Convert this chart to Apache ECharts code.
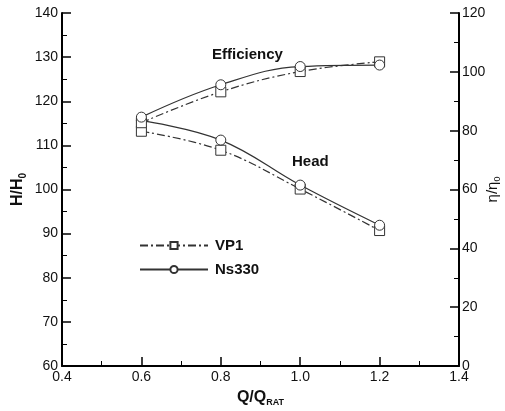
<!DOCTYPE html>
<html>
<head>
<meta charset="utf-8">
<script src="https://cdn.jsdelivr.net/npm/echarts@6/dist/echarts.min.js"></script>
<style>
  html, body { margin: 0; padding: 0; background: #fff; }
  #main { width: 505px; height: 411px; }
</style>
</head>
<body>
<div id="main"></div>
<script>
// flow ratio Q/Q_RAT
const flowRatio = [0.6, 0.8, 1.0, 1.2]
// head H/H0 (left axis)
const headVP1 = [113.2, 108.9, 100.1, 90.7]
const headNs330 = [115.6, 111.2, 101.0, 91.9]
// efficiency η/η0 (right axis)
const effVP1 = [82.7, 93.2, 100.1, 103.4]
const effNs330 = [84.6, 95.6, 101.8, 102.3]

const font = 'Liberation Sans, Arial, sans-serif'
const ink = '#111'
const lineColor = '#333'
const dashDot = [8, 3, 2, 3]

function pairs(ys) {
  return flowRatio.map((x, i) => [x, ys[i]])
}

function axisBase() {
  return {
    nameMoveOverlap: false,
    axisLine: { show: true, lineStyle: { color: '#000', width: 2 } },
    axisTick: { show: true, inside: true, length: 9, lineStyle: { color: '#000', width: 1.5 } },
    minorTick: { show: true, splitNumber: 2, length: 5, lineStyle: { color: '#000', width: 1 } },
    splitLine: { show: false },
    axisLabel: { color: ink, fontSize: 14, fontFamily: font },
  }
}

function seriesItem(name, data, yIdx, symbol, dashed) {
  return {
    name: name,
    type: 'line',
    yAxisIndex: yIdx,
    data: pairs(data),
    smooth: 0.4,
    symbol: symbol,
    symbolSize: 10,
    showAllSymbol: true,
    lineStyle: { color: lineColor, width: 1.2, type: dashed ? dashDot : 'solid' },
    itemStyle: { color: '#fff', borderColor: lineColor, borderWidth: 1 },
    emphasis: { disabled: true },
  }
}

const chart = echarts.init(document.getElementById('main'))
const option = {
  animation: false,
  grid: { left: 62, right: 46, top: 13, bottom: 45, containLabel: false, outerBoundsMode: 'none' },
  textStyle: { fontFamily: font },
  legend: {
    orient: 'vertical',
    left: 134,
    top: 233,
    itemWidth: 68,
    itemHeight: 9,
    itemGap: 9,
    data: ['VP1', 'Ns330'],
    textStyle: { color: ink, fontSize: 15, fontWeight: 'bold', fontFamily: font, padding: [0, 0, 0, 2] },
  },
  xAxis: Object.assign(axisBase(), {
    type: 'value',
    min: 0.4,
    max: 1.4,
    interval: 0.2,
    name: '{a|Q/Q}{b|RAT}',
    nameLocation: 'middle',
    nameGap: 22,
    nameTextStyle: {
      rich: {
        a: { fontSize: 16, fontWeight: 'bold', color: ink, fontFamily: font },
        b: { fontSize: 9, fontWeight: 'bold', color: ink, fontFamily: font, padding: [10, 0, 0, 0] },
      },
    },
    axisLabel: { color: ink, fontSize: 14, fontFamily: font, margin: 4, formatter: v => v.toFixed(1) },
  }),
  yAxis: [
    Object.assign(axisBase(), {
      type: 'value',
      min: 60,
      max: 140,
      interval: 10,
      position: 'left',
      name: '{a|H/H}{b|0}',
      nameLocation: 'middle',
      nameGap: 34,
      nameRotate: 90,
      nameTextStyle: {
        rich: {
          a: { fontSize: 16, fontWeight: 'bold', color: ink, fontFamily: font },
          b: { fontSize: 10, fontWeight: 'bold', color: ink, fontFamily: font, padding: [10, 0, 0, 0] },
        },
      },
      axisLabel: { color: ink, fontSize: 14, fontFamily: font, margin: 4 },
    }),
    Object.assign(axisBase(), {
      type: 'value',
      min: 0,
      max: 120,
      interval: 20,
      position: 'right',
      name: '{a|η/η}{b|0}',
      nameLocation: 'middle',
      nameGap: 25,
      nameRotate: 90,
      nameTextStyle: {
        rich: {
          a: { fontSize: 15, color: ink, fontFamily: font },
          b: { fontSize: 9, color: ink, fontFamily: font, padding: [9, 0, 0, 0] },
        },
      },
      axisLabel: { color: ink, fontSize: 14, fontFamily: font, margin: 3 },
    }),
  ],
  graphic: [
    { type: 'text', left: 212, top: 47, style: { text: 'Efficiency', fontSize: 15, fontWeight: 'bold', fill: ink, fontFamily: font } },
    { type: 'text', left: 292, top: 154, style: { text: 'Head', fontSize: 15, fontWeight: 'bold', fill: ink, fontFamily: font } },
  ],
  series: [
    seriesItem('VP1', headVP1, 0, 'rect', true),
    seriesItem('Ns330', headNs330, 0, 'circle', false),
    seriesItem('VP1', effVP1, 1, 'rect', true),
    seriesItem('Ns330', effNs330, 1, 'circle', false),
  ],
}
chart.setOption(option)
</script>
</body>
</html>
